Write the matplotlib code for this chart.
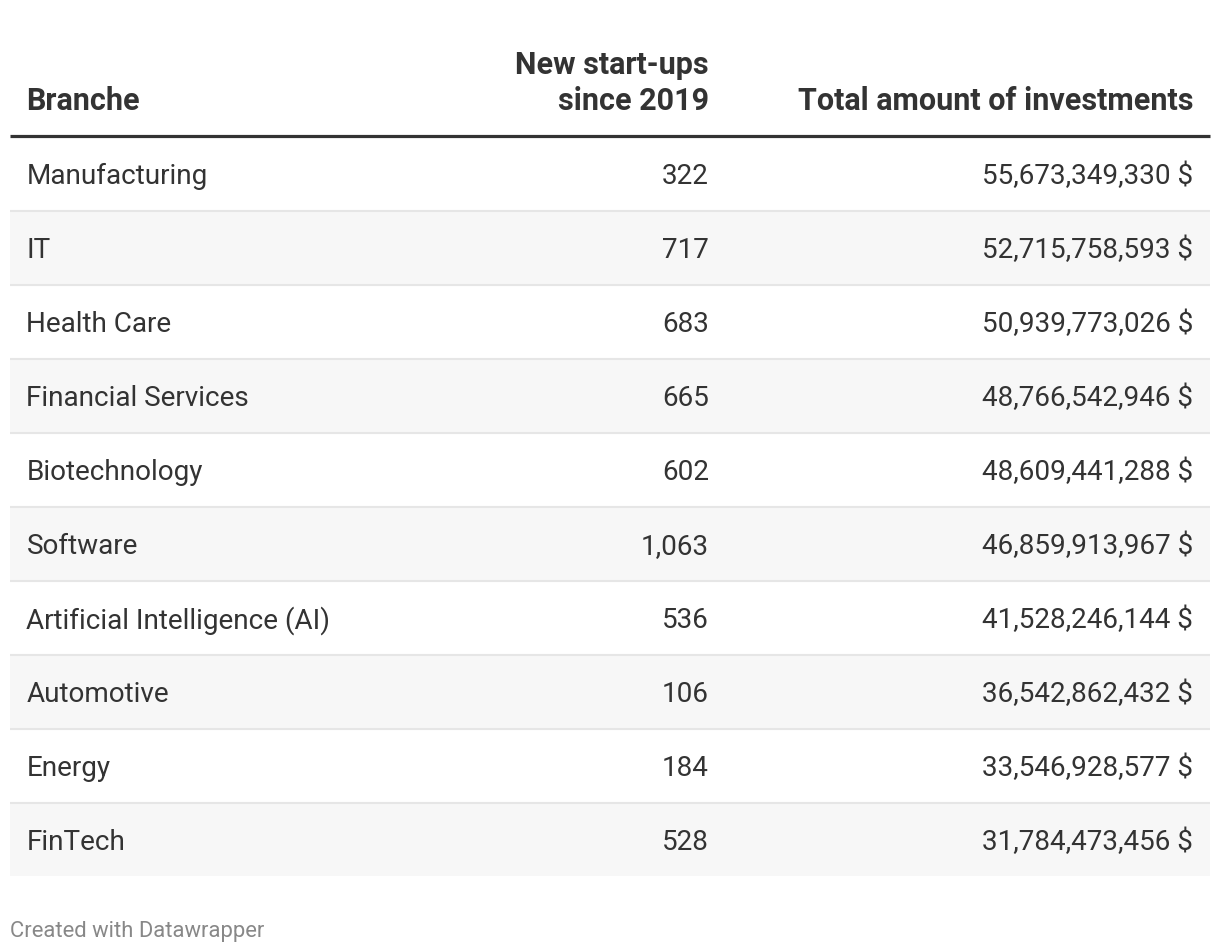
import matplotlib
matplotlib.use("Agg")
import matplotlib.pyplot as plt
from matplotlib.patches import Rectangle

branches = ["Manufacturing", "IT", "Health Care", "Financial Services", "Biotechnology",
            "Software", "Artificial Intelligence (AI)", "Automotive", "Energy", "FinTech"]
new_startups = [322, 717, 683, 665, 602, 1063, 536, 106, 184, 528]
investments = [55673349330, 52715758593, 50939773026, 48766542946, 48609441288,
               46859913967, 41528246144, 36542862432, 33546928577, 31784473456]
headers = ["Branche", "New start-ups\nsince 2019", "Total amount of investments"]
footer = "Created with Datawrapper"

plt.rcParams['font.family'] = ['Roboto', 'DejaVu Sans']
W, H = 1220, 952
fig = plt.figure(figsize=(W / 100, H / 100), dpi=100)
ax = fig.add_axes([0, 0, 1, 1])
ax.set_xlim(0, W)
ax.set_ylim(H, 0)
ax.axis('off')

TXT = '#333333'
left, right = 10, 1210
x_col1, x_col2, x_col3 = 26.5, 709, 1193
top = 137.5
rh = 74
fs = 20.1
hfs = 22

# header
ax.text(x_col1, 110, headers[0], fontsize=hfs, fontweight='bold', color=TXT, ha='left', va='baseline')
l1, l2 = headers[1].split("\n")
ax.text(x_col2, 73.5, l1, fontsize=hfs, fontweight='bold', color=TXT, ha='right', va='baseline')
ax.text(x_col2, 110, l2, fontsize=hfs, fontweight='bold', color=TXT, ha='right', va='baseline')
ax.text(x_col3, 110, headers[2], fontsize=hfs, fontweight='bold', color=TXT, ha='right', va='baseline')
ax.plot([left, right], [136, 136], color=TXT, lw=2.3, solid_capstyle='butt')

n = len(branches)
for i, (b, s, v) in enumerate(zip(branches, new_startups, investments)):
    y0 = top + i * rh
    if i % 2 == 1:
        h = rh if i < n - 1 else rh - 2
        ax.add_patch(Rectangle((left, y0), right - left, h, facecolor='#f7f7f7', edgecolor='none', zorder=0))
    if i < n - 1:
        ax.plot([left, right], [y0 + rh - 0.5, y0 + rh - 0.5], color='#e6e6e6', lw=1.5, solid_capstyle='butt', zorder=1)
    yb = y0 + 47
    ax.text(x_col1, yb, b, fontsize=fs, color=TXT, ha='left', va='baseline')
    ax.text(x_col2, yb, f"{s:,}", fontsize=fs, color=TXT, ha='right', va='baseline')
    ax.text(x_col3, yb, f"{v:,} $", fontsize=fs, color=TXT, ha='right', va='baseline')

ax.text(10, 936.5, footer, fontsize=15.8, color='#888888', ha='left', va='baseline')

fig.savefig("out.png", dpi=100, facecolor='white')
